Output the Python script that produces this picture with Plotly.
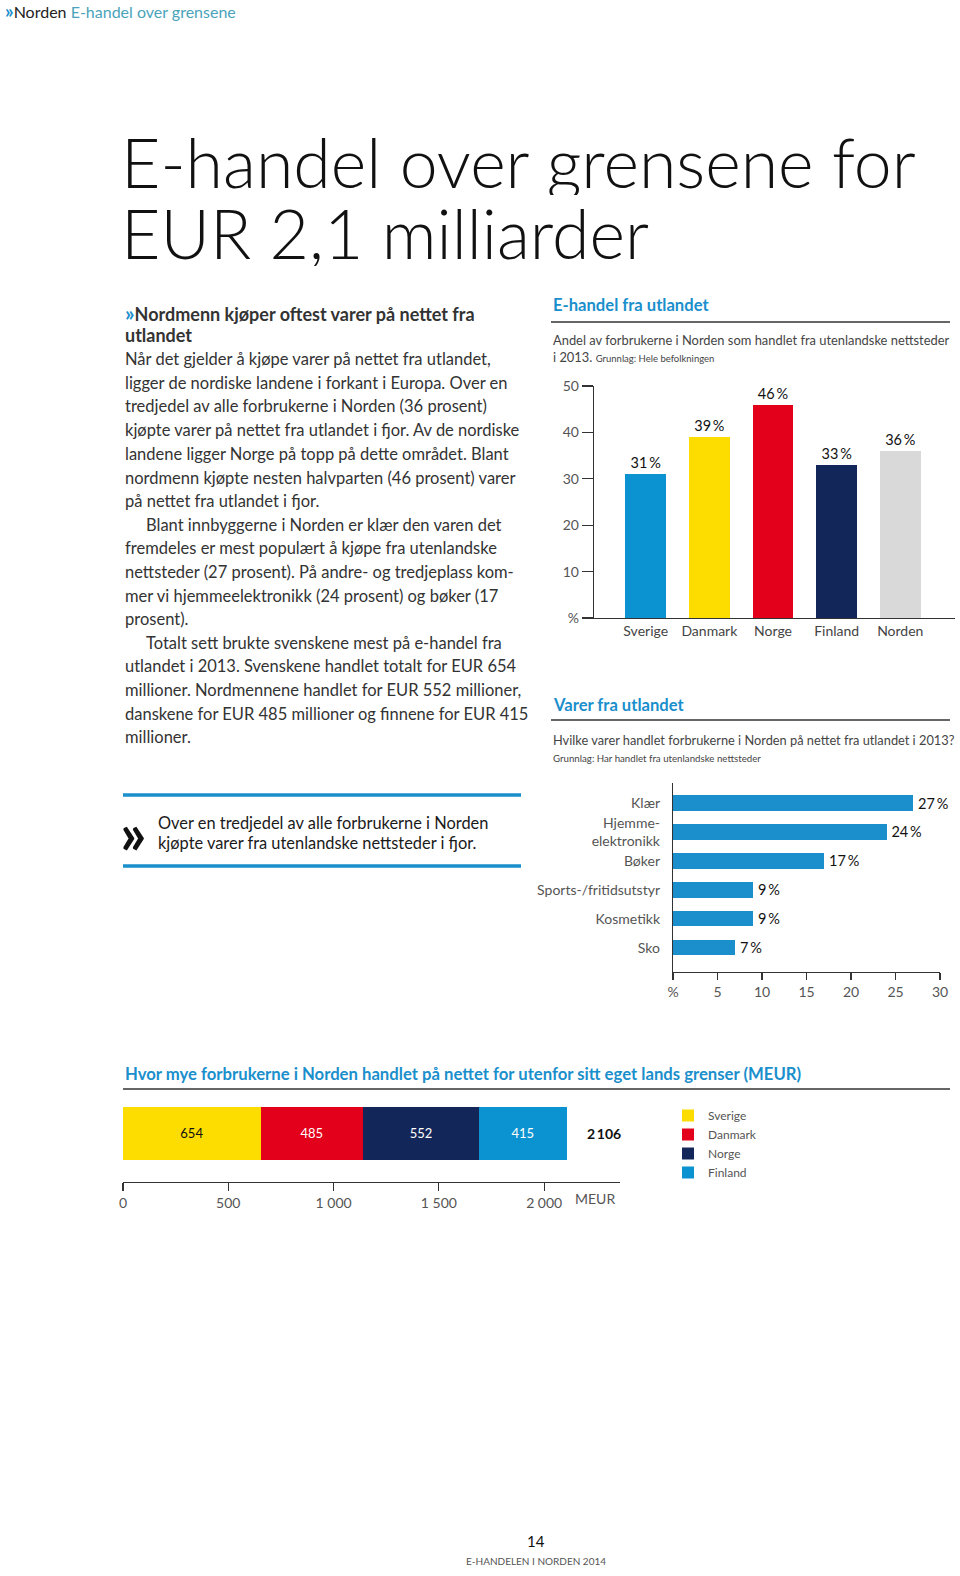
import plotly.graph_objects as go

W, H = 960, 1576

# ---------------- data ----------------
countries = ["Sverige", "Danmark", "Norge", "Finland", "Norden"]
share_pct = [31, 39, 46, 33, 36]
country_colors = ["#0a93d0", "#fddd00", "#e2001a", "#13265a", "#d9d9d9"]
share_ticks = [0, 10, 20, 30, 40, 50]
share_ticktext = ["%", "10", "20", "30", "40", "50"]

goods = ["Klær", "Hjemme-<br>elektronikk", "Bøker", "Sports-/fritidsutstyr", "Kosmetikk", "Sko"]
goods_pct = [27, 24, 17, 9, 9, 7]
goods_ticks = [0, 5, 10, 15, 20, 25, 30]
goods_ticktext = ["%", "5", "10", "15", "20", "25", "30"]

spend_countries = ["Sverige", "Danmark", "Norge", "Finland"]
spend_meur = [654, 485, 552, 415]
spend_colors = ["#fddd00", "#e2001a", "#13265a", "#0a93d0"]
spend_textcolors = ["#111111", "#ffffff", "#ffffff", "#ffffff"]
spend_ticks = [0, 500, 1000, 1500, 2000]
spend_ticktext = ["0", "500", "1 000", "1 500", "2 000"]

BLUE = "#1a8fcc"
TXT = "#333333"
FONT = "Lato"


def px(x):
    return x / W


def py(y):
    return 1 - y / H


fig = go.Figure()

# chart 1: vertical bars
fig.add_trace(go.Bar(
    x=list(range(len(countries))), y=share_pct,
    marker=dict(color=country_colors, line=dict(width=0)),
    width=0.64,
    text=[f"{v}\u2009%" for v in share_pct], textposition="outside",
    textfont=dict(family=FONT, size=14.5, color="#111111"),
    constraintext="none", cliponaxis=False, showlegend=False,
    xaxis="x", yaxis="y", hoverinfo="skip"))

# chart 2: horizontal bars
fig.add_trace(go.Bar(
    x=goods_pct, y=list(range(len(goods))), orientation="h",
    marker=dict(color=BLUE, line=dict(width=0)), width=0.52,
    text=[f"\u2009{v}\u2009%" for v in goods_pct], textposition="outside",
    textfont=dict(family=FONT, size=14.5, color="#111111"),
    constraintext="none", cliponaxis=False, showlegend=False,
    xaxis="x2", yaxis="y2", hoverinfo="skip"))

# chart 3: stacked bar
for name, v, c, tc in zip(spend_countries, spend_meur, spend_colors, spend_textcolors):
    fig.add_trace(go.Bar(
        x=[v], y=[0], orientation="h", name=name,
        marker=dict(color=c, line=dict(width=0)), width=1.0,
        text=[str(v)], textposition="inside", insidetextanchor="middle",
        textfont=dict(family=FONT, size=13, color=tc),
        constraintext="none", xaxis="x3", yaxis="y3", hoverinfo="skip"))

axis_common = dict(showgrid=False, zeroline=False, fixedrange=True, automargin=False)

fig.update_layout(
    width=W, height=H, autosize=False,
    margin=dict(l=0, r=0, t=0, b=0, pad=0, autoexpand=False),
    paper_bgcolor="white", plot_bgcolor="rgba(0,0,0,0)",
    barmode="stack",
    font=dict(family=FONT, color=TXT),
    xaxis=dict(**axis_common, domain=[px(594), px(955)], anchor="y",
               range=[-0.8125, 4.86],
               tickvals=list(range(len(countries))), ticktext=countries,
               ticks="", showline=True, linecolor="#333333", linewidth=1.2,
               tickfont=dict(family=FONT, size=14, color="#444444")),
    yaxis=dict(**axis_common, domain=[py(618), py(386)], anchor="x",
               range=[0, 50], tickvals=share_ticks, ticktext=share_ticktext,
               ticks="outside", ticklen=11, tickcolor="#333333", tickwidth=1.2,
               showline=True, linecolor="#333333", linewidth=1.2,
               tickfont=dict(family=FONT, size=14, color="#555555")),
    xaxis2=dict(**axis_common, domain=[px(673), px(940)], anchor="y2",
                range=[0, 30], tickvals=goods_ticks, ticktext=goods_ticktext,
                ticks="outside", ticklen=7, tickcolor="#333333", tickwidth=1.2,
                showline=True, linecolor="#333333", linewidth=1.2,
                tickfont=dict(family=FONT, size=14, color="#555555")),
    yaxis2=dict(**axis_common, domain=[py(972), py(783)], anchor="x2",
                range=[5.83, -0.69], tickvals=list(range(len(goods))), ticktext=goods,
                ticks="", ticklabelstandoff=9,
                showline=True, linecolor="#333333", linewidth=1.2,
                tickfont=dict(family=FONT, size=14, color="#555555")),
    xaxis3=dict(**axis_common, domain=[px(123), px(620)], anchor="y3",
                range=[0, 2360], tickvals=spend_ticks, ticktext=spend_ticktext,
                ticks="outside", ticklen=8, tickcolor="#333333", tickwidth=1.2,
                showline=True, linecolor="#333333", linewidth=1.2,
                tickfont=dict(family=FONT, size=14, color="#555555")),
    yaxis3=dict(**axis_common, domain=[py(1182), py(1095)], anchor="x3",
                range=[-0.92, 0.72], showticklabels=False, ticks="", showline=False),
    legend=dict(x=px(668), y=py(1101), xanchor="left", yanchor="top",
                orientation="v", traceorder="normal",
                font=dict(family=FONT, size=12, color="#555555"),
                itemwidth=30, tracegroupgap=0, bgcolor="rgba(0,0,0,0)"),
)

ann = []


def text(x, y, s, size=16, color=TXT, xanchor="left", weight=None, family=FONT, height=None):
    f = dict(family=family, size=size, color=color)
    if weight:
        f["weight"] = weight
    a = dict(x=px(x), y=py(y), xref="paper", yref="paper", text=s,
             showarrow=False, xanchor=xanchor, yanchor="middle",
             align="left", font=f)
    if height:
        a["height"] = height
        a["valign"] = "middle"
    ann.append(a)


# header
text(3, 10, "<b><span style='color:#1a8fcc;font-size:19px'>»</span></b><span style='color:#222'>Norden</span> "
     "<span style='color:#4aa3ba'>E-handel over grensene</span>", size=16)

# big title
text(119, 161, "E-handel over grensene for", size=68, color="#111111", weight=300, height=68)
text(119, 232, "EUR 2,1 milliarder", size=68, color="#111111", weight=300, height=68)

# body text
body = [
    (123, 312, "<b><span style='color:#1a8fcc;font-size:21px'>»</span>Nordmenn kjøper oftest varer på nettet fra</b>", 18),
    (123, 335, "<b>utlandet</b>", 18),
    (123, 359, "Når det gjelder å kjøpe varer på nettet fra utlandet,", 16.5),
    (123, 383, "ligger de nordiske landene i forkant i Europa. Over en", 16.5),
    (123, 406, "tredjedel av alle forbrukerne i Norden (36 prosent)", 16.5),
    (123, 430, "kjøpte varer på nettet fra utlandet i fjor. Av de nordiske", 16.5),
    (123, 454, "landene ligger Norge på topp på dette området. Blant", 16.5),
    (123, 478, "nordmenn kjøpte nesten halvparten (46 prosent) varer", 16.5),
    (123, 501, "på nettet fra utlandet i fjor.", 16.5),
    (144, 525, "Blant innbyggerne i Norden er klær den varen det", 16.5),
    (123, 548, "fremdeles er mest populært å kjøpe fra utenlandske", 16.5),
    (123, 572, "nettsteder (27 prosent). På andre- og tredjeplass kom-", 16.5),
    (123, 596, "mer vi hjemmeelektronikk (24 prosent) og bøker (17", 16.5),
    (123, 619, "prosent).", 16.5),
    (144, 643, "Totalt sett brukte svenskene mest på e-handel fra", 16.5),
    (123, 666, "utlandet i 2013. Svenskene handlet totalt for EUR 654", 16.5),
    (123, 690, "millioner. Nordmennene handlet for EUR 552 millioner,", 16.5),
    (123, 714, "danskene for EUR 485 millioner og finnene for EUR 415", 16.5),
    (123, 737, "millioner.", 16.5),
]
for x, y, s, sz in body:
    text(x, y, s, size=sz, color="#333333")

# quote
text(118, 831, "<b>»</b>", size=58, color="#111111")
text(156, 822, "Over en tredjedel av alle forbrukerne i Norden", size=16.4, color="#1a1a1a")
text(156, 842, "kjøpte varer fra utenlandske nettsteder i fjor.", size=16.4, color="#1a1a1a")

# right column headers
text(551, 305, "<b>E-handel fra utlandet</b>", size=16.6, color=BLUE)
text(551, 340, "Andel av forbrukerne i Norden som handlet fra utenlandske nettsteder", size=12.9, color="#444444")
text(551, 357, "i 2013. <span style='font-size:9.5px'>Grunnlag: Hele befolkningen</span>", size=12.9, color="#444444")

text(551, 705, "<b>Varer fra utlandet</b>", size=16.6, color=BLUE)
text(551, 740, "Hvilke varer handlet forbrukerne i Norden på nettet fra utlandet i 2013?", size=12.8, color="#444444")
text(551, 758, "Grunnlag: Har handlet fra utenlandske nettsteder", size=9.7, color="#444444")

text(123, 1074, "<b>Hvor mye forbrukerne i Norden handlet på nettet for utenfor sitt eget lands grenser (MEUR)</b>",
     size=16.7, color=BLUE)

# total and unit for chart 3 (positioned on the data axis)
total = sum(spend_meur)
ann.append(dict(x=total + 180, y=0, xref="x3", yref="y3",
                text="<b>" + f"{total:,}".replace(",", "\u2009") + "</b>",
                showarrow=False, xanchor="center", yanchor="middle",
                font=dict(family=FONT, size=14, color="#111111")))
ann.append(dict(x=2240, y=py(1198), xref="x3", yref="paper", text="MEUR",
                showarrow=False, xanchor="center", yanchor="middle",
                font=dict(family=FONT, size=14, color="#555555")))

# footer
text(536, 1541, "14", size=15, color="#111111", xanchor="center")
text(536, 1561, "E-HANDELEN I NORDEN 2014", size=10, color="#555555", xanchor="center")

fig.update_layout(annotations=ann)

shapes = []


def hline(x0, x1, y, color, width):
    shapes.append(dict(type="line", xref="paper", yref="paper",
                       x0=px(x0), x1=px(x1), y0=py(y), y1=py(y),
                       line=dict(color=color, width=width)))


hline(551, 950, 322, "#333333", 1.5)
hline(551, 950, 720, "#333333", 1.5)
hline(123, 950, 1089, "#333333", 1.5)
hline(123, 521, 795, BLUE, 3.5)
hline(123, 521, 866, BLUE, 3.5)
fig.update_layout(shapes=shapes)

fig.write_html("out.html", config={"displayModeBar": False, "staticPlot": True},
               post_script="document.body.style.margin='0';document.body.style.overflow='hidden';")
